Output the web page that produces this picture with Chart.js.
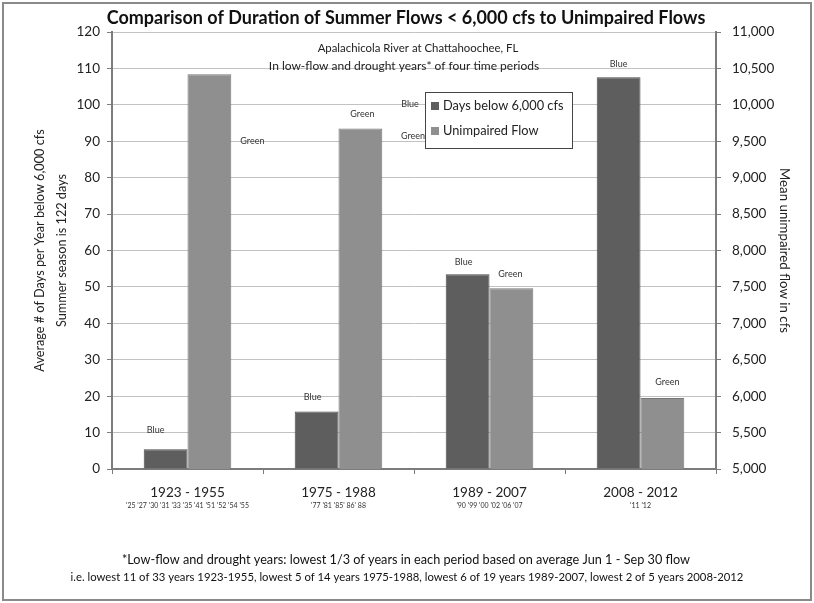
<!DOCTYPE html>
<html>
<head>
<meta charset="utf-8">
<script src="https://cdn.jsdelivr.net/npm/chart.js@4/dist/chart.umd.min.js"></script>
<style>
  html, body { margin: 0; padding: 0; background: #fff; }
  #wrap { width: 814px; height: 603px; position: relative; }
</style>
</head>
<body>
<div id="wrap"><canvas id="c" width="814" height="603"></canvas></div>
<script>
// Time periods and the low-flow / drought years used in each one
const periods = ['1923 - 1955', '1975 - 1988', '1989 - 2007', '2008 - 2012'];
const droughtYears = [
  "'25 '27 '30 '31 '33 '35 '41 '51 '52 '54 '55",
  "'77 '81 '85' 86' 88",
  "'90 '99 '00 '02 '06 '07",
  "'11 '12"
];

// Average number of summer days per year below 6,000 cfs
const daysBelow = [5.4, 15.8, 53.5, 107.6];
// Mean unimpaired summer flow, cfs
const unimpairedFlow = [10420, 9675, 7480, 5975];

// Series names and the small tags printed by each bar
const seriesNames = ['Days below 6,000 cfs', 'Unimpaired Flow'];
const seriesTags = ['Blue', 'Green'];

// Axis ranges
const daysAxis = { min: 0, max: 120, step: 10 };
const flowAxis = { min: 5000, max: 11000, step: 500 };

// Text
const titleText = 'Comparison of Duration of Summer Flows < 6,000 cfs to Unimpaired Flows';
const subTitle1 = 'Apalachicola River at Chattahoochee, FL';
const subTitle2 = 'In low-flow and drought years* of four time periods';
const leftTitle = ['Average # of Days per Year below 6,000 cfs', 'Summer season is 122 days'];
const rightTitle = 'Mean unimpaired flow in cfs';
const footnote1 = '*Low-flow and drought years: lowest 1/3 of years in each period based on average Jun 1 - Sep 30 flow';
const footnote2 = 'i.e. lowest 11 of 33 years 1923-1955, lowest 5 of 14 years 1975-1988, lowest 6 of 19 years 1989-2007, lowest 2 of 5 years 2008-2012';

const FONT = 'Lato, "Open Sans", sans-serif';
const AXIS_COLOR = '#7c7c7c';
const GRID_COLOR = '#c2c2c2';
const TEXT = '#222';
const BAR_COLORS = ['#5e5e5e', '#8f8f8f'];
const BAR_BORDERS = ['#4a4a4a', '#777777'];

// Offsets of each tag from the top-centre of its bar (px)
const tagOffsets = [
  [[-10, -19], [-4, -14], [-4, -12], [0, -13]],
  [[43, 67], [2, -14], [-1, -14], [5, -16]]
];

const overlay = {
  id: 'overlay',
  beforeDraw(chart) {
    const ctx = chart.ctx;
    ctx.save();
    ctx.fillStyle = '#fff';
    ctx.fillRect(0, 0, chart.width, chart.height);
    ctx.restore();
  },
  afterDraw(chart) {
    const ctx = chart.ctx;
    const area = chart.chartArea;
    ctx.save();

    // frame round the whole figure
    ctx.strokeStyle = '#8a8a8a';
    ctx.lineWidth = 2;
    ctx.strokeRect(3, 3, chart.width - 6, chart.height - 6);

    // title and subtitles
    ctx.fillStyle = '#111';
    ctx.textAlign = 'center';
    ctx.textBaseline = 'middle';
    ctx.font = 'bold 18px ' + FONT;
    ctx.fillText(titleText, 406, 18);
    ctx.fillStyle = TEXT;
    ctx.font = '11.4px ' + FONT;
    ctx.fillText(subTitle1, 418, 48);
    ctx.font = '12px ' + FONT;
    ctx.fillText(subTitle2, 404, 66);

    // tags by the bars
    ctx.font = '9px ' + FONT;
    ctx.fillStyle = '#333';
    chart.data.datasets.forEach((ds, d) => {
      const meta = chart.getDatasetMeta(d);
      meta.data.forEach((bar, i) => {
        const [dx, dy] = tagOffsets[d][i];
        ctx.fillText(seriesTags[d], bar.x + dx, bar.y + dy);
      });
    });
    // two loose tags beside the legend
    ctx.fillText(seriesTags[0], area.left + 298, area.top + 72);
    ctx.fillText(seriesTags[1], area.left + 301, area.top + 104);

    // legend
    const lx = area.left + 313, ly = area.top + 60, lw = 147, lh = 56;
    ctx.fillStyle = '#fff';
    ctx.fillRect(lx, ly, lw, lh);
    ctx.strokeStyle = '#444';
    ctx.lineWidth = 1;
    ctx.strokeRect(lx + 0.5, ly + 0.5, lw, lh);
    ctx.textAlign = 'left';
    ctx.font = '12.8px ' + FONT;
    chart.data.datasets.forEach((ds, d) => {
      const cy = ly + 14 + d * 25;
      ctx.fillStyle = ds.backgroundColor;
      ctx.fillRect(lx + 6, cy - 4, 8, 8);
      ctx.fillStyle = TEXT;
      ctx.fillText(ds.label, lx + 18, cy);
    });

    // footnotes
    ctx.textAlign = 'center';
    ctx.fillStyle = '#111';
    ctx.font = '12.7px ' + FONT;
    ctx.fillText(footnote1, 406, 560);
    ctx.font = '11.3px ' + FONT;
    ctx.fillText(footnote2, 407, 577);
    ctx.restore();
  }
};

new Chart(document.getElementById('c'), {
  type: 'bar',
  data: {
    labels: periods,
    datasets: [
      {
        label: seriesNames[0], data: daysBelow, yAxisID: 'y', xAxisID: 'x',
        backgroundColor: BAR_COLORS[0], borderColor: BAR_BORDERS[0], borderWidth: 1,
        categoryPercentage: 0.58, barPercentage: 1
      },
      {
        label: seriesNames[1], data: unimpairedFlow, yAxisID: 'y1', xAxisID: 'x',
        backgroundColor: BAR_COLORS[1], borderColor: BAR_BORDERS[1], borderWidth: 1,
        categoryPercentage: 0.58, barPercentage: 1
      }
    ]
  },
  options: {
    responsive: false,
    animation: false,
    devicePixelRatio: 1,
    layout: { padding: { top: 32, left: 0, right: 0, bottom: 90 } },
    plugins: { legend: { display: false }, tooltip: { enabled: false } },
    scales: {
      x: {
        position: 'bottom',
        offset: true,
        grid: { offset: true, drawOnChartArea: false, drawTicks: true, tickLength: 5, tickColor: AXIS_COLOR },
        border: { color: AXIS_COLOR, width: 2 },
        ticks: { font: { family: FONT, size: 13.5 }, color: TEXT, padding: 11 },
        afterFit(s) { s.height = 30; }
      },
      x2: {
        type: 'category',
        position: 'bottom',
        labels: droughtYears,
        offset: true,
        grid: { display: false, drawTicks: false, offset: true },
        border: { display: false },
        ticks: { font: { family: FONT, size: 7 }, color: '#333', padding: 3 },
        afterFit(s) { s.height = 14; }
      },
      y: {
        position: 'left',
        min: daysAxis.min, max: daysAxis.max,
        ticks: { stepSize: daysAxis.step, font: { family: FONT, size: 13.5 }, color: TEXT, padding: 7 },
        grid: { color: GRID_COLOR, tickColor: AXIS_COLOR, tickLength: 5 },
        border: { color: AXIS_COLOR, width: 2 },
        title: {
          display: true, text: leftTitle, color: TEXT,
          font: { family: FONT, size: 12.7, lineHeight: 1.75 },
          padding: { top: 29, bottom: 0 }
        },
        afterFit(s) { s.width = 112; }
      },
      y1: {
        position: 'right',
        min: flowAxis.min, max: flowAxis.max,
        ticks: {
          stepSize: flowAxis.step, font: { family: FONT, size: 13.5 }, color: TEXT, padding: 11,
          callback: v => v.toLocaleString('en-US')
        },
        grid: { drawOnChartArea: false, tickColor: AXIS_COLOR, tickLength: 5 },
        border: { color: AXIS_COLOR, width: 2 },
        title: {
          display: true, text: rightTitle, color: TEXT,
          font: { family: FONT, size: 13.3 },
          padding: { top: 22, bottom: 0 }
        },
        afterFit(s) { s.width = 98; }
      }
    }
  },
  plugins: [overlay]
});
</script>
</body>
</html>
